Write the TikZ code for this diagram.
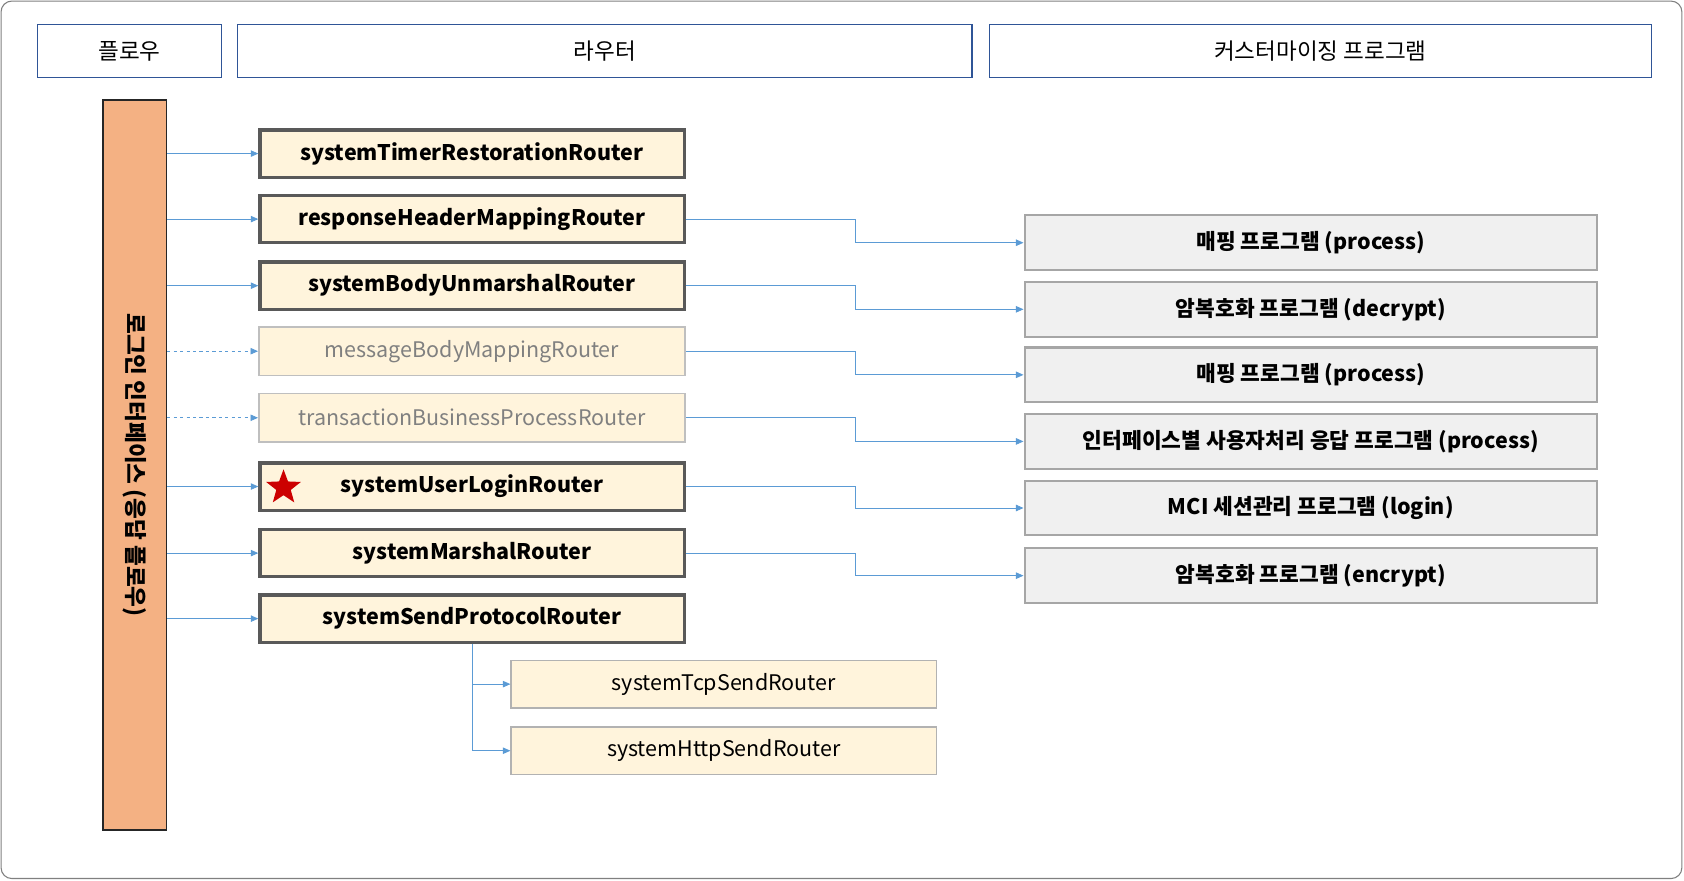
\documentclass[tikz,border=0pt]{standalone}
\usepackage{fontspec}
\setmainfont{Noto Sans CJK KR}
\usetikzlibrary{shapes.geometric,arrows.meta}
\definecolor{hdr}{HTML}{2F5597}
\definecolor{cream}{HTML}{FFF4DC}
\definecolor{lnk}{HTML}{5B9BD5}
\definecolor{orng}{HTML}{F4B183}
\tikzset{
 hbox/.style={draw=hdr,line width=1.2pt,minimum height=49pt,font=\fontsize{21}{25}\selectfont},
 rbold/.style={draw=black!65,line width=3pt,fill=cream,minimum width=395pt,minimum height=44pt,font=\fontsize{20}{24}\selectfont\bfseries},
 rfade/.style={draw=black!25,line width=1.5pt,fill=cream,minimum width=397pt,minimum height=45pt,text=black!50,font=\fontsize{20}{24}\selectfont},
 rsub/.style={draw=black!30,line width=1.5pt,fill=cream,minimum width=396pt,minimum height=44pt,font=\fontsize{20}{24}\selectfont},
 cbox/.style={draw=black!35,line width=2pt,fill=black!6,minimum width=533pt,minimum height=51pt,font=\fontsize{20}{24}\selectfont\bfseries},
 ar/.style={draw=lnk,line width=0.8pt,-{Triangle[length=7pt,width=6pt]}},
}
\begin{document}
\begin{tikzpicture}[x=1pt,y=-1pt]
\useasboundingbox (0,0) rectangle (1568,820);
\draw[black!50,line width=1pt,rounded corners=10pt] (1,1) rectangle (1566,818);
\node[hbox,minimum width=171pt] (h1) at (120.5,47.5) {플로우};
\node[hbox,minimum width=684pt] (h2) at (563,47.5) {라우터};
\node[hbox,minimum width=617pt] (h3) at (1229.5,47.5) {커스터마이징 프로그램};
\node[draw=black!85,line width=1.5pt,fill=orng,minimum width=59pt,minimum height=680pt] (bar) at (125.5,433) {};
\node[rotate=-90,font=\fontsize{21}{25}\selectfont\bfseries] (bart) at (125.5,433) {로그인 인터페이스 (응답 플로우)};
\node[rbold] (r1) at (439.5,143) {systemTimerRestorationRouter};
\node[rbold] (r2) at (439.5,204) {responseHeaderMappingRouter};
\node[rbold] (r3) at (439.5,266) {systemBodyUnmarshalRouter};
\node[rfade] (r4) at (439.5,327) {messageBodyMappingRouter};
\node[rfade] (r5) at (439.5,389) {transactionBusinessProcessRouter};
\node[rbold] (r6) at (439.5,453) {systemUserLoginRouter};
\node[rbold] (r7) at (439.5,515) {systemMarshalRouter};
\node[rbold] (r8) at (439.5,576) {systemSendProtocolRouter};
\node[rsub] (s1) at (674,637) {systemTcpSendRouter};
\node[rsub] (s2) at (674,699) {systemHttpSendRouter};
\node[star,star points=5,star point ratio=2.4,fill=red!80!black,minimum size=34pt,inner sep=0pt] (st) at (264,454) {};
\node[cbox] (c1) at (1220.5,226) {매핑 프로그램 (process)};
\node[cbox] (c2) at (1220.5,288) {암복호화 프로그램 (decrypt)};
\node[cbox] (c3) at (1220.5,349) {매핑 프로그램 (process)};
\node[cbox] (c4) at (1220.5,411) {인터페이스별 사용자처리 응답 프로그램 (process)};
\node[cbox] (c5) at (1220.5,473) {MCI 세션관리 프로그램 (login)};
\node[cbox] (c6) at (1220.5,536) {암복호화 프로그램 (encrypt)};
\foreach \r in {r1,r2,r3,r6,r7,r8}{\draw[ar] (bar.east|-\r.west) -- (\r.west);}
\foreach \r in {r4,r5}{\draw[ar,dashed] (bar.east|-\r.west) -- (\r.west);}
\foreach \r/\c in {r2/c1,r3/c2,r4/c3,r5/c4,r6/c5,r7/c6}{
 \draw[ar] (\r.east) -- ++(158,0) |- (\c.west);}
\draw[ar] (r8.south) |- (s1.west);
\draw[ar] (r8.south) |- (s2.west);
\end{tikzpicture}
\end{document}
